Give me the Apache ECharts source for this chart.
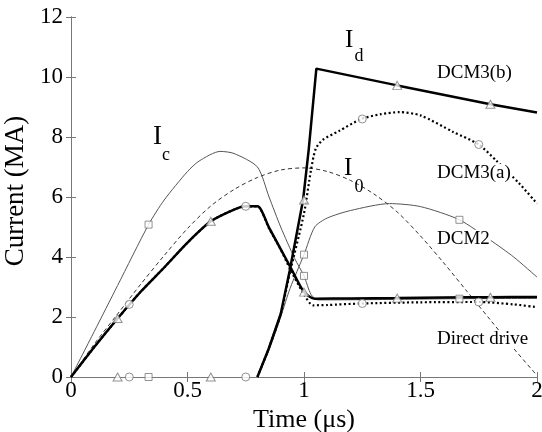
<!DOCTYPE html>
<html>
<head>
<meta charset="utf-8">
<script src="https://cdn.jsdelivr.net/npm/echarts/dist/echarts.min.js"></script>
<style>html,body{margin:0;padding:0;background:#fff}#c{width:542px;height:432px}</style>
</head>
<body>
<div id="c"></div>
<script>
// ---- Data (time in µs, current in MA) ----
const xTicks = [0, 0.5, 1, 1.5, 2];
const yTicks = [0, 2, 4, 6, 8, 10, 12];

// Direct drive (I0)
const ddT = [0,0.1,0.2,0.3,0.4,0.5,0.6,0.7,0.8,0.9,1.0,1.1,1.2,1.3,1.4,1.5,1.6,1.7,1.8,1.9,2.0];
const ddV = [0,1.1,2.1,3.1,4.05,4.95,5.7,6.25,6.65,6.9,6.97,6.85,6.55,6.1,5.5,4.7,3.8,2.85,1.9,0.95,0.05];

// DCM3(b): Ic and Id
const b_IcT = [0,0.1,0.2,0.3,0.4,0.5,0.6,0.7,0.75,0.8,0.85,0.9,0.94,1.0,1.046,1.2,1.4,1.6,1.8,2.0];
const b_IcV = [0,1.0,1.95,2.85,3.65,4.48,5.19,5.58,5.69,5.69,4.98,4.26,3.69,2.83,2.61,2.62,2.63,2.65,2.66,2.67];
const b_IdT = [0.8,0.846,0.9,0.939,0.996,1.02,1.053,1.4,1.8,2.0];
const b_IdV = [0,0.89,2.1,3.56,5.9,7.56,10.28,9.72,9.09,8.82];

// DCM3(a): Ic and Id
const a_IcT = [0,0.1,0.2,0.3,0.4,0.5,0.6,0.7,0.75,0.8,0.85,0.9,0.94,1.0,1.039,1.1,1.246,1.5,1.75,1.9,2.0];
const a_IcV = [0,1.0,1.95,2.85,3.65,4.48,5.19,5.58,5.69,5.69,4.95,4.25,3.6,2.75,2.39,2.4,2.45,2.49,2.5,2.42,2.33];
const a_IdT = [0.8,0.846,0.9,0.94,1.0,1.03,1.05,1.08,1.15,1.246,1.33,1.41,1.5,1.64,1.75,1.824,1.924,2.0];
const a_IdV = [0,0.9,2.1,3.5,5.45,6.9,7.6,7.9,8.2,8.6,8.76,8.83,8.72,8.17,7.75,7.22,6.45,5.78];

// DCM2: Ic and Id
const c2_IcT = [0,0.1,0.2,0.333,0.4,0.5,0.55,0.64,0.7,0.8,0.85,0.9,0.96,1.0,1.03,1.06,1.3,1.667,2.0];
const c2_IcV = [0,1.52,3.05,5.08,5.9,6.85,7.2,7.52,7.45,7.0,6.0,5.0,3.95,3.37,2.75,2.57,2.58,2.61,2.62];
const c2_IdT = [0.8,0.85,0.9,0.94,1.0,1.046,1.1,1.2,1.367,1.5,1.667,1.8,1.9,2.0];
const c2_IdV = [0,0.9,2.0,2.95,4.08,5.0,5.3,5.55,5.78,5.68,5.24,4.56,4.0,3.33];

// Marker samples
const triT = [0.2,0.6,1.0,1.4,1.8];
const triIc = [1.95,5.19,2.83,2.63,2.66];
const triId = [0,0,5.9,9.72,9.09];
const cirT = [0.25,0.75,1.25,1.75];
const cirIc = [2.42,5.69,2.45,2.5];
const cirId = [0,0,8.6,7.75];
const sqT = [0.333,1.0,1.667];
const sqIc = [5.08,3.37,2.61];
const sqId = [0,4.08,5.24];

// ---- build ----
const zip = (t, v) => t.map((x, i) => [x, v[i]]);
const FONT = '"Liberation Serif", "Times New Roman", serif';
const AX = '#777';

function lineS(t, v, color, width, type, smooth) {
  return { type: 'line', data: zip(t, v), showSymbol: false, symbol: 'none', smooth: smooth,
    lineStyle: { color: color, width: width, type: type }, z: 2, silent: true, animation: false };
}
function markS(t, v, symbol, size) {
  return { type: 'scatter', data: zip(t, v), symbol: symbol, symbolSize: size, clip: false,
    itemStyle: { color: '#fff', borderColor: '#777', borderWidth: 1 }, z: 4, silent: true, animation: false };
}
function txt(text, x, y, size, bg) {
  const s = { text: text, x: x, y: y, font: size + 'px ' + FONT, fill: '#000', align: 'left', verticalAlign: 'middle' };
  if (bg) { s.backgroundColor = '#fff'; s.padding = [0, 1, 0, 1]; }
  return { type: 'text', style: s, z: 10, silent: true };
}

const chart = echarts.init(document.getElementById('c'), null, { renderer: 'canvas' });
const axisCommon = {
  axisLine: { show: true, lineStyle: { color: AX, width: 1 } },
  axisTick: { show: true, inside: true, length: 5, lineStyle: { color: AX } },
  splitLine: { show: false }
};
chart.setOption({
  animation: false,
  backgroundColor: '#fff',
  grid: { left: 71, top: 17, width: 466, height: 360, containLabel: false, outerBoundsMode: 'none' },
  xAxis: [
    Object.assign({ type: 'value', min: xTicks[0], max: xTicks[xTicks.length - 1], interval: xTicks[1] - xTicks[0],
      position: 'bottom', name: 'Time (\u03bcs)', nameLocation: 'middle', nameGap: 14,
      nameTextStyle: { fontFamily: FONT, fontSize: 26, color: '#000' },
      axisLabel: { fontFamily: FONT, fontSize: 23, color: '#000', margin: 2 } }, axisCommon),
    Object.assign({ type: 'value', min: xTicks[0], max: xTicks[xTicks.length - 1], interval: xTicks[1] - xTicks[0],
      position: 'top', axisLabel: { show: false } }, axisCommon)
  ],
  yAxis: [
    Object.assign({ type: 'value', min: yTicks[0], max: yTicks[yTicks.length - 1], interval: yTicks[1] - yTicks[0],
      position: 'left', name: 'Current (MA)', nameLocation: 'middle', nameGap: 42, nameRotate: 90,
      nameTextStyle: { fontFamily: FONT, fontSize: 27, color: '#000', padding: [0, 0, 0, 12] },
      axisLabel: { fontFamily: FONT, fontSize: 23, color: '#000', margin: 8 } }, axisCommon),
    Object.assign({ type: 'value', min: yTicks[0], max: yTicks[yTicks.length - 1], interval: yTicks[1] - yTicks[0],
      position: 'right', axisLabel: { show: false } }, axisCommon)
  ],
  series: [
    lineS(ddT, ddV, '#333', 1, [4, 3], 0.3),
    lineS(c2_IcT, c2_IcV, '#555', 1, 'solid', 0.25),
    lineS(c2_IdT, c2_IdV, '#555', 1, 'solid', 0.25),
    lineS(a_IcT, a_IcV, '#000', 2.2, [2, 2.5], 0.25),
    lineS(a_IdT, a_IdV, '#000', 2.2, [2, 2.5], 0.25),
    lineS(b_IcT, b_IcV, '#000', 2.5, 'solid', 0.25),
    lineS(b_IdT, b_IdV, '#000', 2.5, 'solid', false),
    markS(triT, triIc, 'triangle', [9, 8]),
    markS(triT, triId, 'triangle', [9, 8]),
    markS(cirT, cirIc, 'circle', 8),
    markS(cirT, cirId, 'circle', 8),
    markS(sqT, sqIc, 'rect', 7),
    markS(sqT, sqId, 'rect', 7)
  ],
  graphic: [
    txt('I', 153, 137, 27),
    txt('c', 162, 155, 18),
    txt('I', 345, 40, 25),
    txt('d', 354.5, 56, 18),
    txt('I', 344, 168.5, 25),
    txt('0', 354.5, 187.5, 18),
    txt('DCM3(b)', 436, 73, 19, true),
    txt('DCM3(a)', 436, 173.5, 19, true),
    txt('DCM2', 436, 239.5, 19, true),
    txt('Direct drive', 436, 339.5, 19, true)
  ]
});
</script>
</body>
</html>
